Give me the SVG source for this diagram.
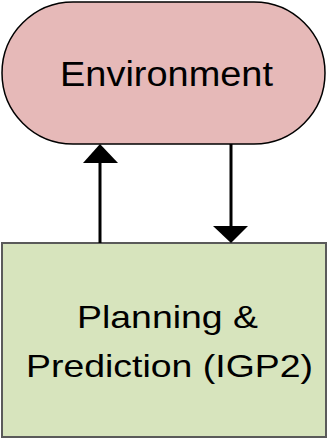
<svg xmlns="http://www.w3.org/2000/svg" width="327" height="438" viewBox="0 0 327 438">
  <style>
    .label { font-family: "Liberation Sans", Arial, sans-serif; fill: #000; }
    .wire { stroke: #000; stroke-width: 3; fill: none; }
    .head { fill: #000; }
  </style>
  <rect width="327" height="438" fill="#ffffff"/>

  <g id="environment">
    <rect x="2" y="2" width="323" height="142" rx="71" ry="71" fill="#e6b9b8" stroke="#000" stroke-width="1.5"/>
    <text class="label" x="60" y="86" font-size="35" textLength="213" lengthAdjust="spacingAndGlyphs">Environment</text>
  </g>

  <g id="planning">
    <rect x="2" y="243" width="324" height="194" fill="#d7e4bd" stroke="#5a5a5a" stroke-width="2"/>
    <text class="label" x="77" y="328" font-size="32" textLength="181" lengthAdjust="spacingAndGlyphs">Planning &amp;</text>
    <text class="label" x="26" y="377" font-size="32" textLength="287" lengthAdjust="spacingAndGlyphs">Prediction (IGP2)</text>
  </g>

  <g id="connectors">
    <!-- planning -> environment -->
    <line class="wire" x1="100" y1="243" x2="100" y2="160"/>
    <polygon class="head" points="83,163 118,163 100,144"/>
    <!-- environment -> planning -->
    <line class="wire" x1="231" y1="144" x2="231" y2="228"/>
    <polygon class="head" points="213,226 248,226 231,243"/>
  </g>
</svg>
